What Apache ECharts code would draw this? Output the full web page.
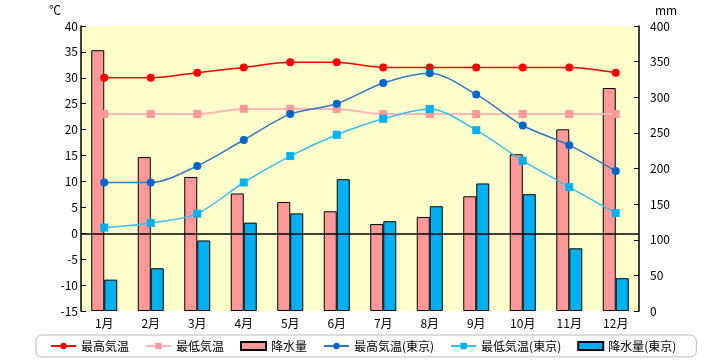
<!DOCTYPE html>
<html><head><meta charset="utf-8">
<script src="https://cdn.jsdelivr.net/npm/echarts@6/dist/echarts.min.js"></script>
<style>html,body{margin:0;padding:0;background:#fff}#c{width:720px;height:360px}</style>
</head><body><div id="c"></div>
<script>
const months = ['1月','2月','3月','4月','5月','6月','7月','8月','9月','10月','11月','12月'];
const highTemp = [30,30,31,32,33,33,32,32,32,32,32,31];
const lowTemp = [23,23,23,24,24,24,23,23,23,23,23,23];
const precip = [366,216,188,165,153,140,122,132,161,220,255,313];
const tokyoHigh = [9.8,9.8,13.0,18.0,23.0,25.0,29.0,30.9,26.8,20.8,17.0,12.0];
const tokyoLow = [1.1,2.0,3.8,9.8,14.9,19.0,22.1,24.0,19.9,14.0,8.9,3.9];
const tokyoPrecip = [44,60,99,124,137,185,126,147,179,164,88,46];
const seriesNames = ['最高気温','最低気温','降水量','最高気温(東京)','最低気温(東京)','降水量(東京)'];

const FONT = '"Noto Sans CJK JP", sans-serif';
const chart = echarts.init(document.getElementById('c'), null, {renderer:'canvas'});
chart.setOption({
  animation: false,
  textStyle: {fontFamily: FONT, fontSize: 12, color: '#000'},
  grid: {left: 81, right: 81, top: 26, bottom: 49, show: true, backgroundColor: '#FFFFCC', borderWidth: 0},
  legend: {
    data: seriesNames.map((n, i) => (i === 2 || i === 5) ? {name: n, icon: 'rect'} : {name: n}),
    left: 36, top: 335,
    padding: [5, 20, 5, 14],
    itemWidth: 25, itemHeight: 8, itemGap: 16,
    borderColor: '#BBBBBB', borderWidth: 1, borderRadius: 6,
    textStyle: {fontFamily: FONT, fontSize: 12, color: '#000'}
  },
  xAxis: {
    type: 'category', data: months,
    axisLine: {show: false}, axisTick: {show: false},
    axisLabel: {fontFamily: FONT, fontSize: 12, color: '#000', margin: 6}
  },
  yAxis: [
    {type: 'value', min: -15, max: 40, interval: 5, position: 'left',
     name: '℃', nameLocation: 'end', nameGap: 10,
     nameTextStyle: {fontFamily: FONT, fontSize: 12, color: '#000', align: 'right', padding: [0, 20, 0, 0]},
     axisLine: {show: true, lineStyle: {color: '#000', width: 1.5}},
     axisTick: {show: true, inside: true, length: 5, lineStyle: {color: '#000'}},
     axisLabel: {fontFamily: FONT, fontSize: 12, color: '#000', margin: 3},
     splitLine: {show: false}},
    {type: 'value', min: 0, max: 400, interval: 50, position: 'right',
     name: 'mm', nameLocation: 'end', nameGap: 10,
     nameTextStyle: {fontFamily: FONT, fontSize: 12, color: '#000', align: 'left', padding: [0, 0, 0, 16]},
     axisLine: {show: true, lineStyle: {color: '#000', width: 1.5}},
     axisTick: {show: true, inside: true, length: 5, lineStyle: {color: '#000'}},
     axisLabel: {fontFamily: FONT, fontSize: 12, color: '#000', margin: 11},
     splitLine: {show: false}}
  ],
  series: [
    {name: seriesNames[2], type: 'bar', yAxisIndex: 1, data: precip, barWidth: 13, barGap: '0%', z: 2,
     itemStyle: {color: '#FF9999', borderColor: '#000', borderWidth: 1}},
    {name: seriesNames[5], type: 'bar', yAxisIndex: 1, data: tokyoPrecip, barWidth: 13, barGap: '0%', z: 2,
     itemStyle: {color: '#00B0F0', borderColor: '#000', borderWidth: 1}},
    {name: seriesNames[0], type: 'line', yAxisIndex: 0, data: highTemp, smooth: 0.3, z: 5,
     symbol: 'circle', symbolSize: 8,
     itemStyle: {color: '#FF0000'}, lineStyle: {color: '#FF0000', width: 1.5},
     markLine: {silent: true, symbol: 'none', label: {show: false}, animation: false,
       lineStyle: {color: '#000', type: 'solid', width: 1.5}, emphasis: {disabled: true},
       data: [{yAxis: 0}]}},
    {name: seriesNames[1], type: 'line', yAxisIndex: 0, data: lowTemp, smooth: 0.3, z: 4,
     symbol: 'rect', symbolSize: 8,
     itemStyle: {color: '#FF9999'}, lineStyle: {color: '#FFB8B8', width: 2}},
    {name: seriesNames[3], type: 'line', yAxisIndex: 0, data: tokyoHigh, smooth: 0.3, z: 5,
     symbol: 'circle', symbolSize: 8,
     itemStyle: {color: '#0066CC'}, lineStyle: {color: '#2F78C4', width: 1.5}},
    {name: seriesNames[4], type: 'line', yAxisIndex: 0, data: tokyoLow, smooth: 0.3, z: 5,
     symbol: 'rect', symbolSize: 8,
     itemStyle: {color: '#00B0F0'}, lineStyle: {color: '#33BFF0', width: 1.5}}
  ]
});
</script></body></html>
